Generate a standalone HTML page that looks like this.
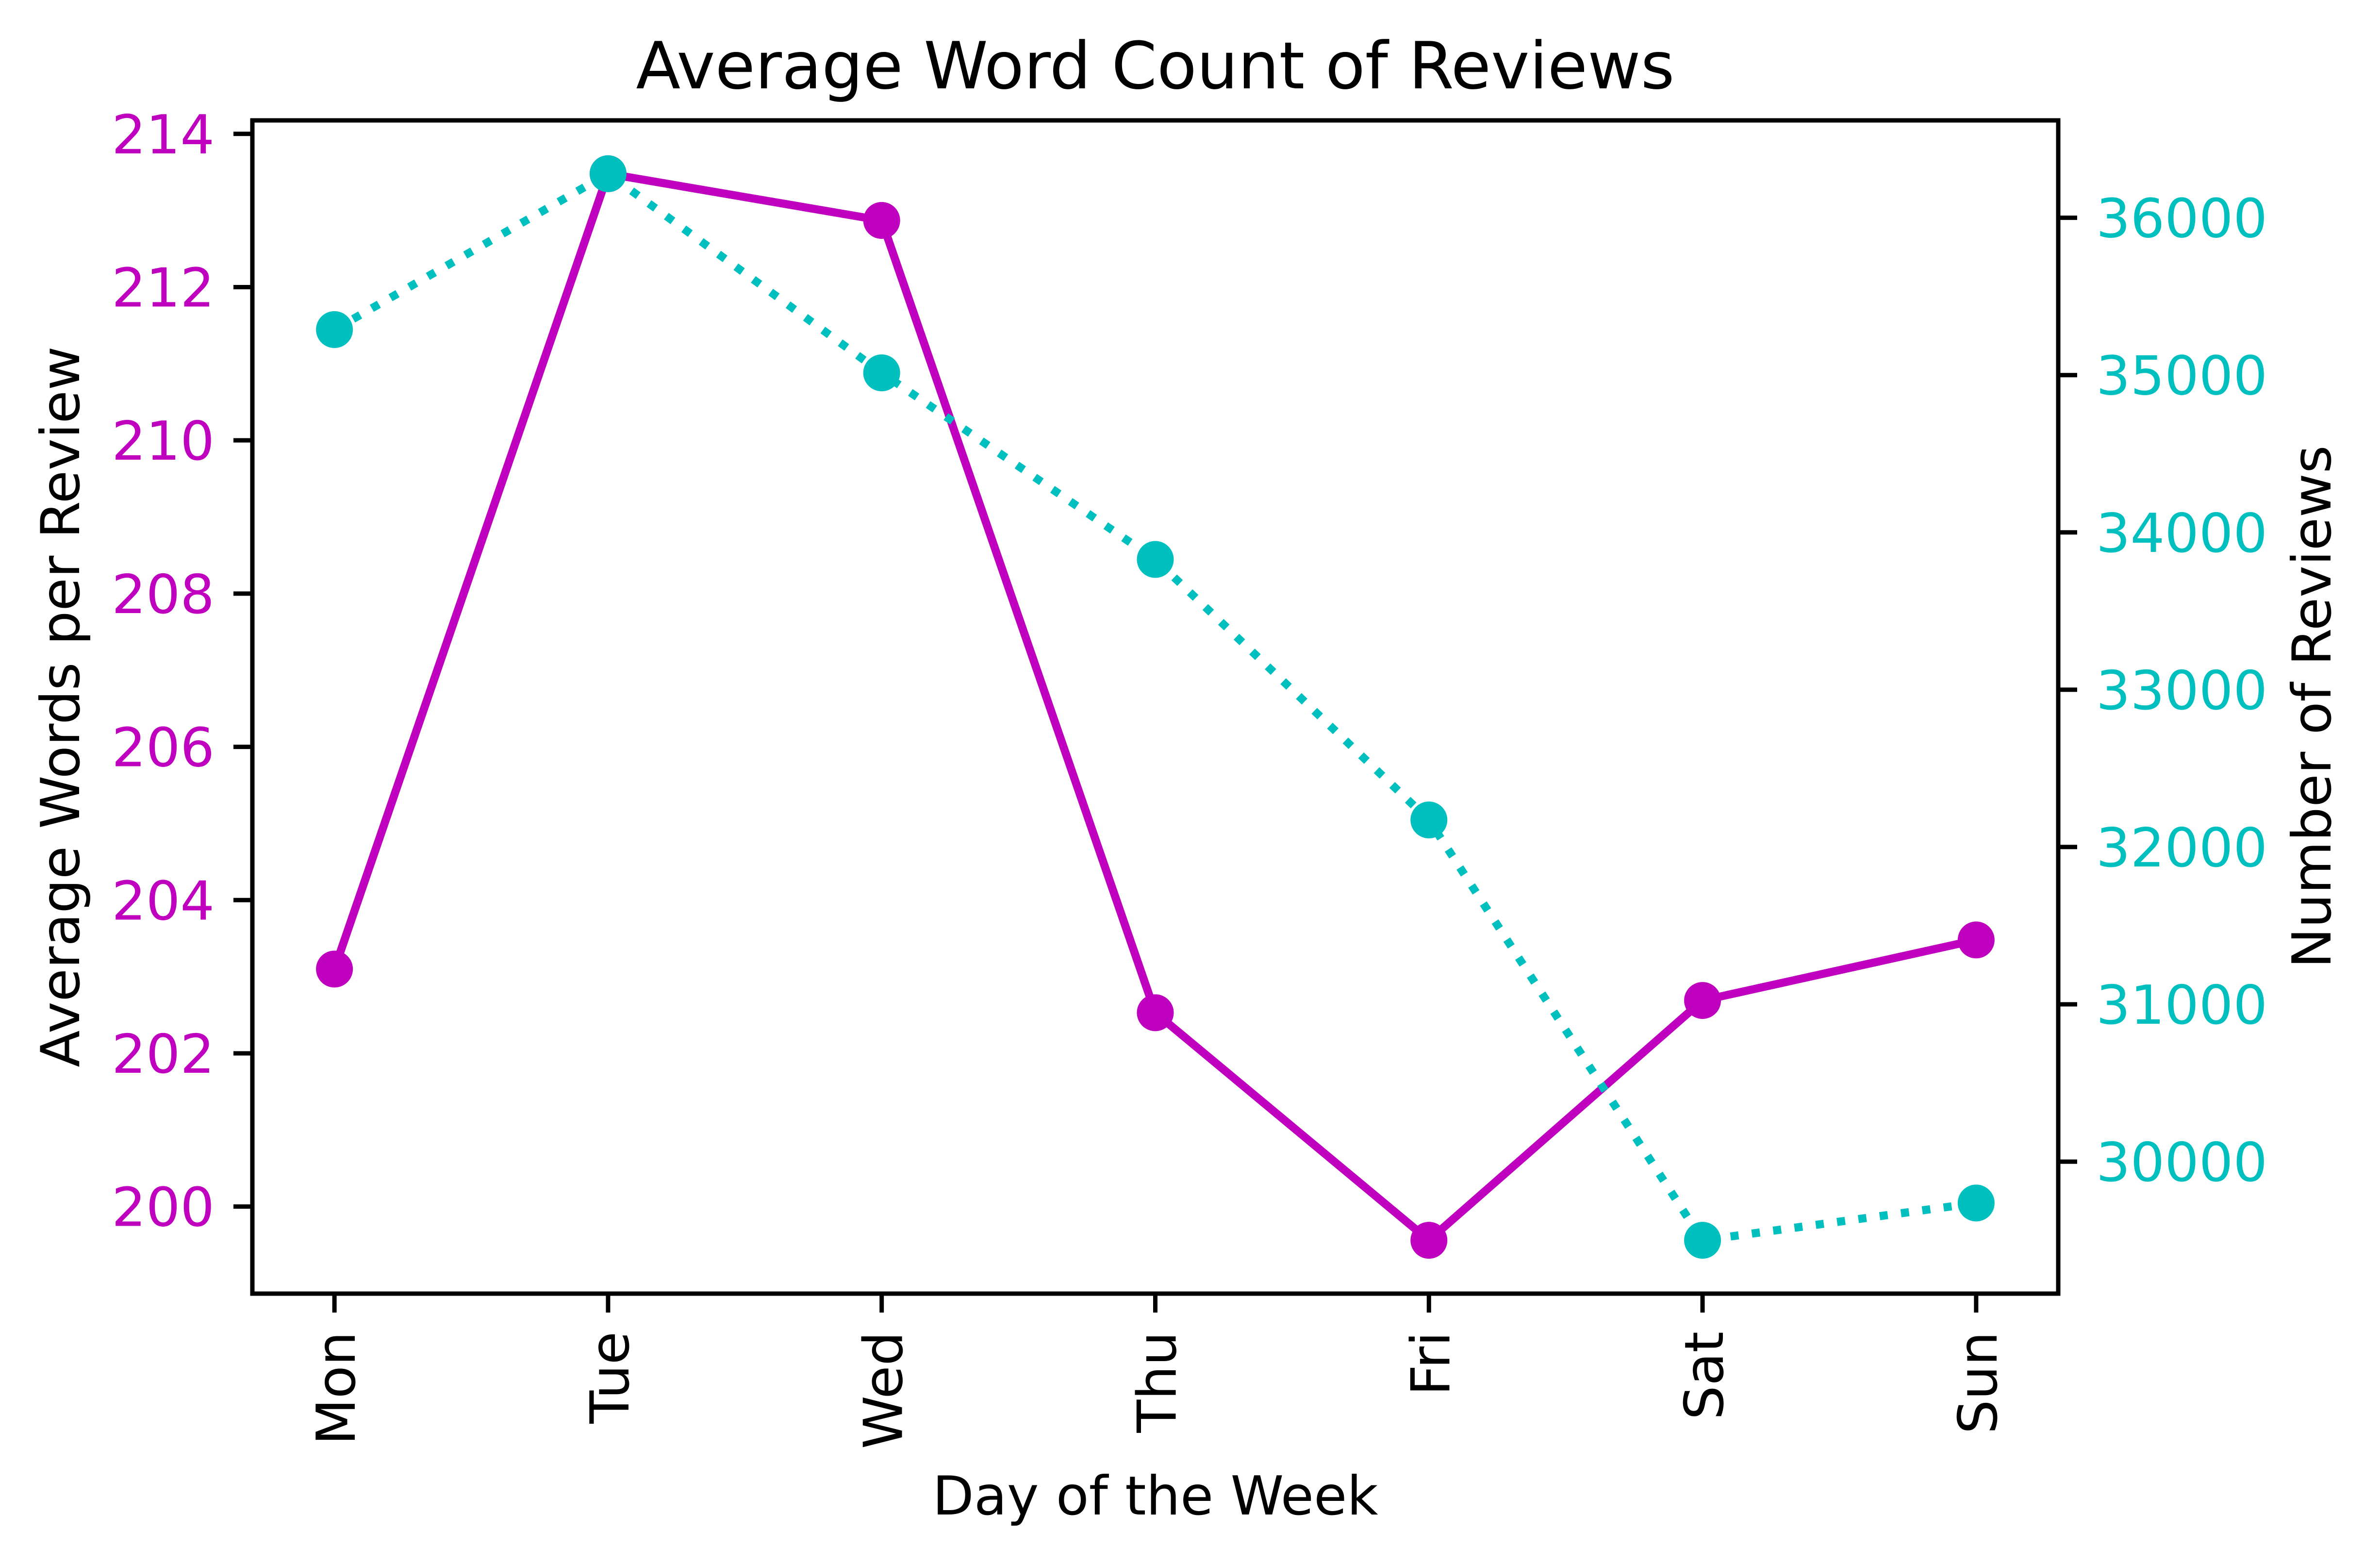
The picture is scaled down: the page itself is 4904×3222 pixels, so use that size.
<!DOCTYPE html>
<html>
<head>
<meta charset="utf-8">
<style>
  html,body{margin:0;padding:0;background:#fff;}
  svg{display:block;}
  text{font-family:"DejaVu Sans","Liberation Sans",sans-serif;}
</style>
</head>
<body>
<svg id="chart" width="4904" height="3222" viewBox="0 0 4904 3222" xmlns="http://www.w3.org/2000/svg">
  <rect x="0" y="0" width="4904" height="3222" fill="#ffffff"/>
  <text x="2380.5" y="182" font-size="134" text-anchor="middle" fill="#000">Average Word Count of Reviews</text>
  <g id="plot"></g>
  <text x="2380.5" y="3120" font-size="111" text-anchor="middle" fill="#000">Day of the Week</text>
  <text transform="translate(163,1456) rotate(-90)" x="0" y="0" font-size="111" text-anchor="middle" fill="#000">Average Words per Review</text>
  <text transform="translate(4802,1456) rotate(-90)" x="0" y="0" font-size="111" text-anchor="middle" fill="#000">Number of Reviews</text>
</svg>
<script>
const days = ["Mon","Tue","Wed","Thu","Fri","Sat","Sun"];
const avgWords = [203.1, 213.48, 212.87, 202.53, 199.56, 202.69, 203.48];
const reviewCounts = [35289, 36280, 35014, 33828, 32172, 29500, 29737];
const leftTicks = [200, 202, 204, 206, 208, 210, 212, 214];
const rightTicks = [30000, 31000, 32000, 33000, 34000, 35000, 36000];

const NS = "http://www.w3.org/2000/svg";
const L = 520, R = 4241, T = 248, B = 2665;
const MAG = "#bf00bf", CYAN = "#00bfbf";
const plot = document.getElementById("plot");

function mk(tag, attrs, parent) {
  const e = document.createElementNS(NS, tag);
  for (const k in attrs) e.setAttribute(k, attrs[k]);
  (parent || plot).appendChild(e);
  return e;
}
function domain(arr) {
  const mn = Math.min(...arr), mx = Math.max(...arr), m = (mx - mn) * 0.05;
  return [mn - m, mx + m];
}
const xDom = [-0.3, days.length - 1 + 0.3];
function xs(i) { return L + (i - xDom[0]) / (xDom[1] - xDom[0]) * (R - L); }
const lDom = domain(avgWords);
function yl(v) { return B - (v - lDom[0]) / (lDom[1] - lDom[0]) * (B - T); }
const rDom = domain(reviewCounts);
function yr(v) { return B - (v - rDom[0]) / (rDom[1] - rDom[0]) * (B - T); }

// left ticks
leftTicks.forEach(v => {
  const y = yl(v);
  if (y < T - 1 || y > B + 1) return;
  const t = mk("line", {x1: L - 39, x2: L, y1: y, y2: y, stroke: "#000", "stroke-width": 9});
  
  
  const tx = mk("text", {x: L - 78, y: y + 40, "font-size": 111, "text-anchor": "end", fill: MAG});
  tx.textContent = v;
  
  
});
// right ticks
rightTicks.forEach(v => {
  const y = yr(v);
  if (y < T - 1 || y > B + 1) return;
  const t = mk("line", {x1: R, x2: R + 39, y1: y, y2: y, stroke: "#000", "stroke-width": 9});
  
  
  const tx = mk("text", {x: R + 78, y: y + 40, "font-size": 111, "text-anchor": "start", fill: CYAN});
  tx.textContent = v;
  
  
});
// x ticks
days.forEach((d, i) => {
  const x = xs(i);
  const t = mk("line", {x1: x, x2: x, y1: B, y2: B + 39, stroke: "#000", "stroke-width": 9});
  
  
  const tx = mk("text", {transform: "translate(" + x + "," + (B + 78) + ") rotate(-90)", x: 0, y: 42, "font-size": 111, "text-anchor": "end", fill: "#000"});
  tx.textContent = d;
  
  
});

// magenta series
const pm = avgWords.map((v, i) => xs(i) + "," + yl(v)).join(" ");
const lineM = mk("polyline", {points: pm, fill: "none", stroke: MAG, "stroke-width": 16.7, "stroke-linejoin": "round"});


avgWords.forEach((v, i) => {
  const c = mk("circle", {cx: xs(i), cy: yl(v), r: 38, fill: MAG});
  
  
});

// cyan series (dotted)
const pc = reviewCounts.map((v, i) => xs(i) + "," + yr(v)).join(" ");
const lineC = mk("polyline", {points: pc, fill: "none", stroke: CYAN, "stroke-width": 16.7, "stroke-dasharray": "16.7 27.6"});


reviewCounts.forEach((v, i) => {
  const c = mk("circle", {cx: xs(i), cy: yr(v), r: 38, fill: CYAN});
  
  
});

// frame
const fr = mk("rect", {x: L, y: T, width: R - L, height: B - T, fill: "none", stroke: "#000", "stroke-width": 9});


</script>
</body>
</html>
